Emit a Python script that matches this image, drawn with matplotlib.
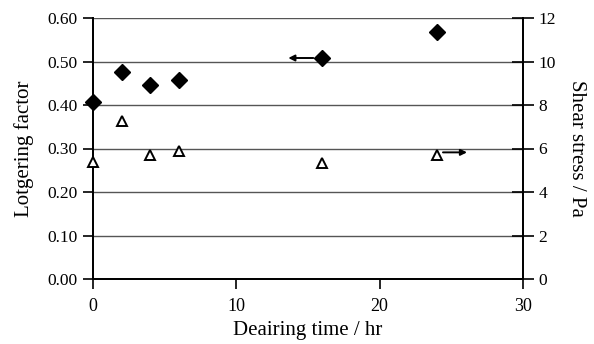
import matplotlib
matplotlib.use("Agg")
import matplotlib.pyplot as plt
from matplotlib.transforms import offset_copy

# ============================================================
# Data
# ============================================================

TIME_HR = [0, 2, 4, 6, 16, 24]
LOTGERING = [0.408, 0.475, 0.445, 0.457, 0.509, 0.567]
SHEAR_PA = [5.39, 7.27, 5.68, 5.90, 5.32, 5.72]

X_TICKS = [0, 10, 20, 30]
Y_LEFT_TICKS = [0.0, 0.1, 0.2, 0.3, 0.4, 0.5, 0.6]
Y_RIGHT_TICKS = [0, 2, 4, 6, 8, 10, 12]

plt.rcParams["font.family"] = ["Liberation Serif", "DejaVu Serif"]

fig = plt.figure(figsize=(5.94, 3.44), dpi=100)
ax = fig.add_axes([93 / 594, 1 - 279 / 344, 430 / 594, 261 / 344])
ax2 = ax.twinx()

ax.set_xlim(X_TICKS[0], X_TICKS[-1])
ax.set_ylim(Y_LEFT_TICKS[0], Y_LEFT_TICKS[-1])
ax2.set_ylim(Y_RIGHT_TICKS[0], Y_RIGHT_TICKS[-1])

# horizontal grid lines
for y in Y_LEFT_TICKS[1:]:
    ax.axhline(y, color="#555555", lw=1.0, zorder=1)

ax.plot(TIME_HR, LOTGERING, linestyle="none", marker="D", markersize=8.6,
        color="black", zorder=5, clip_on=False)
ax2.plot(TIME_HR, SHEAR_PA, linestyle="none", marker="^", markersize=7,
         markerfacecolor="white", markeredgecolor="black", markeredgewidth=1.4,
         zorder=5, clip_on=False)

# arrows pointing to the axis each series belongs to
arrow_kw = dict(arrowstyle="<|-", color="black", lw=1.4,
                mutation_scale=9, shrinkA=0, shrinkB=0)
left_from = offset_copy(ax.transData, fig, x=-6.5, y=-0.3, units="points")
ax.annotate("", xy=(TIME_HR[4], LOTGERING[4]), xycoords=left_from,
            xytext=(-18, 0), textcoords="offset points",
            arrowprops=arrow_kw)
right_from = offset_copy(ax2.transData, fig, x=4.3, y=1.6, units="points")
ax2.annotate("", xy=(TIME_HR[5], SHEAR_PA[5]), xycoords=right_from,
             xytext=(17.3, 0), textcoords="offset points",
             arrowprops=arrow_kw)

# ticks and spines
ax.set_xticks(X_TICKS)
ax.set_yticks(Y_LEFT_TICKS)
ax.set_yticklabels([f"{v:.2f}" for v in Y_LEFT_TICKS])
ax2.set_yticks(Y_RIGHT_TICKS)
ax2.set_yticklabels([str(v) for v in Y_RIGHT_TICKS])

for a in (ax, ax2):
    a.spines["top"].set_visible(False)
    for side in ("left", "right", "bottom"):
        a.spines[side].set_linewidth(1.3)
ax.tick_params(axis="x", direction="out", length=7, width=1.2,
               labelsize=13, pad=7)
ax.tick_params(axis="y", direction="out", length=7, width=1.2,
               labelsize=12.5, pad=4)
ax2.tick_params(axis="y", direction="inout", length=16, width=1.2,
                labelsize=12.5, pad=3)

ax.set_xlabel("Deairing time / hr", fontsize=15, labelpad=4)
ax.set_ylabel("Lotgering factor", fontsize=15, labelpad=10)
ax2.set_ylabel("Shear stress / Pa", fontsize=15, rotation=270, labelpad=22)

plt.savefig("out.png", dpi=100)
